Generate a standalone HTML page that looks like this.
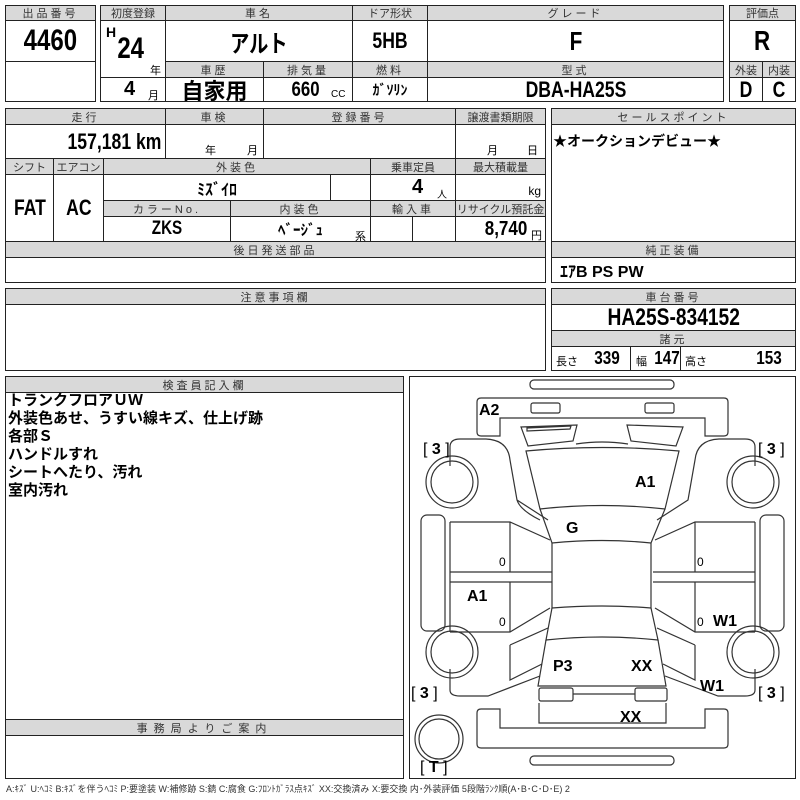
<!DOCTYPE html>
<html><head><meta charset="utf-8"><style>
*{margin:0;padding:0;box-sizing:border-box}
body{width:800px;height:800px;background:#fff;position:relative;overflow:hidden;font-family:"Liberation Sans","Noto Sans CJK JP",sans-serif;color:#000}
.c{position:absolute;border:1px solid #222;display:flex;align-items:center;justify-content:center;white-space:nowrap}
.h{background:#d9d9d9;font-size:11px;letter-spacing:3px;color:#333}
.v{font-weight:bold;font-size:22px;transform:scaleX(.8)}
.b{position:absolute;font-weight:bold;white-space:nowrap}
.s{position:absolute;font-size:11px;white-space:nowrap}
</style></head><body>
<!-- box1 -->
<div class="c h" style="left:5px;top:5px;width:91px;height:16px">出品番号</div>
<div class="c" style="left:5px;top:20px;width:91px;height:42px"><span class="v" style="font-size:30px">4460</span></div>
<div class="c" style="left:5px;top:61px;width:91px;height:41px"></div>
<!-- box2 -->
<div class="c h" style="left:100px;top:5px;width:66px;height:16px;letter-spacing:0">初度登録</div>
<div class="c h" style="left:165px;top:5px;width:188px;height:16px">車名</div>
<div class="c h" style="left:352px;top:5px;width:76px;height:16px;letter-spacing:0">ドア形状</div>
<div class="c h" style="left:427px;top:5px;width:297px;height:16px">グレード</div>
<div class="c" style="left:100px;top:20px;width:66px;height:58px"></div>
<div class="b" style="left:106px;top:24px;font-size:14px">H</div>
<div class="b" style="left:114px;top:32px;font-size:30px;transform:scaleX(.8)">24</div>
<div class="s" style="left:150px;top:62px">年</div>
<div class="c" style="left:165px;top:20px;width:188px;height:42px"><span class="v" style="font-size:24px">アルト</span></div>
<div class="c" style="left:352px;top:20px;width:76px;height:42px"><span class="v">5HB</span></div>
<div class="c" style="left:427px;top:20px;width:297px;height:42px"><span class="v" style="font-size:26px">F</span></div>
<div class="c h" style="left:165px;top:61px;width:99px;height:17px">車歴</div>
<div class="c h" style="left:263px;top:61px;width:90px;height:17px">排気量</div>
<div class="c h" style="left:352px;top:61px;width:76px;height:17px">燃料</div>
<div class="c h" style="left:427px;top:61px;width:297px;height:17px">型式</div>
<div class="c" style="left:100px;top:77px;width:66px;height:25px"></div>
<div class="b" style="left:124px;top:78px;font-size:20px">4</div><div class="s" style="left:148px;top:87px">月</div>
<div class="c" style="left:165px;top:77px;width:99px;height:25px"><span style="font-size:22px;font-weight:bold">自家用</span></div>
<div class="c" style="left:263px;top:77px;width:90px;height:25px"></div>
<div class="b" style="left:288px;top:78px;font-size:21px;transform:scaleX(.8)">660</div><div class="s" style="left:331px;top:89px;font-size:10px">CC</div>
<div class="c" style="left:352px;top:77px;width:76px;height:25px"><span style="font-size:14px;font-weight:bold">ｶﾞｿﾘﾝ</span></div>
<div class="c" style="left:427px;top:77px;width:297px;height:25px"><span class="v" style="font-size:22px">DBA-HA25S</span></div>
<!-- box3 -->
<div class="c h" style="left:729px;top:5px;width:67px;height:16px;letter-spacing:0">評価点</div>
<div class="c" style="left:729px;top:20px;width:67px;height:42px"><span class="v" style="font-size:28px">R</span></div>
<div class="c h" style="left:729px;top:61px;width:34px;height:17px;letter-spacing:0">外装</div>
<div class="c h" style="left:762px;top:61px;width:34px;height:17px;letter-spacing:0">内装</div>
<div class="c" style="left:729px;top:77px;width:34px;height:25px"><span class="v">D</span></div>
<div class="c" style="left:762px;top:77px;width:34px;height:25px"><span class="v">C</span></div>
<!-- block 2 -->
<div class="c h" style="left:5px;top:108px;width:161px;height:17px">走行</div>
<div class="c h" style="left:165px;top:108px;width:99px;height:17px">車検</div>
<div class="c h" style="left:263px;top:108px;width:193px;height:17px">登録番号</div>
<div class="c h" style="left:455px;top:108px;width:91px;height:17px;letter-spacing:0">譲渡書類期限</div>
<div class="c" style="left:5px;top:124px;width:161px;height:35px;justify-content:flex-end;padding-right:4px"><span class="v" style="font-size:22px;transform-origin:right">157,181 km</span></div>
<div class="c" style="left:165px;top:124px;width:99px;height:35px"></div>
<div class="s" style="left:205px;top:142px">年</div><div class="s" style="left:247px;top:142px">月</div>
<div class="c" style="left:263px;top:124px;width:193px;height:35px"></div>
<div class="c" style="left:455px;top:124px;width:91px;height:35px"></div>
<div class="s" style="left:487px;top:142px">月</div><div class="s" style="left:527px;top:142px">日</div>
<div class="c h" style="left:5px;top:158px;width:49px;height:17px;letter-spacing:0">シフト</div>
<div class="c h" style="left:53px;top:158px;width:51px;height:17px;letter-spacing:0">エアコン</div>
<div class="c h" style="left:103px;top:158px;width:268px;height:17px">外装色</div>
<div class="c h" style="left:370px;top:158px;width:86px;height:17px;letter-spacing:0">乗車定員</div>
<div class="c h" style="left:455px;top:158px;width:91px;height:17px;letter-spacing:0">最大積載量</div>
<div class="c" style="left:5px;top:174px;width:49px;height:68px"><span class="v">FAT</span></div>
<div class="c" style="left:53px;top:174px;width:51px;height:68px"><span class="v">AC</span></div>
<div class="c" style="left:103px;top:174px;width:228px;height:27px"><span style="font-weight:bold;font-size:16px">ﾐｽﾞｲﾛ</span></div>
<div class="c" style="left:330px;top:174px;width:41px;height:27px"></div>
<div class="c" style="left:370px;top:174px;width:86px;height:27px"></div>
<div class="b" style="left:412px;top:176px;font-size:20px">4</div><div class="s" style="left:437px;top:186px;font-size:10px">人</div>
<div class="c" style="left:455px;top:174px;width:91px;height:27px;justify-content:flex-end;align-items:flex-end;padding:0 4px 2px 0;font-size:12px">kg</div>
<div class="c h" style="left:103px;top:200px;width:128px;height:17px">カラーNo.</div>
<div class="c h" style="left:230px;top:200px;width:141px;height:17px">内装色</div>
<div class="c h" style="left:370px;top:200px;width:86px;height:17px">輸入車</div>
<div class="c h" style="left:455px;top:200px;width:91px;height:17px;letter-spacing:0">リサイクル預託金</div>
<div class="c" style="left:103px;top:216px;width:128px;height:26px"><span class="v" style="font-size:19px">ZKS</span></div>
<div class="c" style="left:230px;top:216px;width:141px;height:26px"><span style="font-weight:bold;font-size:15px">ﾍﾞｰｼﾞｭ</span></div>
<div class="s" style="left:355px;top:228px">系</div>
<div class="c" style="left:370px;top:216px;width:43px;height:26px"></div>
<div class="c" style="left:412px;top:216px;width:44px;height:26px"></div>
<div class="c" style="left:455px;top:216px;width:91px;height:26px"></div>
<div class="b" style="left:481px;top:218px;font-size:20px;transform:scaleX(.85)">8,740</div><div class="s" style="left:531px;top:227px">円</div>
<div class="c h" style="left:5px;top:241px;width:541px;height:17px">後日発送部品</div>
<div class="c" style="left:5px;top:257px;width:541px;height:26px"></div>
<!-- right -->
<div class="c h" style="left:551px;top:108px;width:245px;height:17px">セールスポイント</div>
<div class="c" style="left:551px;top:124px;width:245px;height:118px"></div>
<div class="b" style="left:553px;top:131px;font-size:14px">★オークションデビュー★</div>
<div class="c h" style="left:551px;top:241px;width:245px;height:17px">純正装備</div>
<div class="c" style="left:551px;top:257px;width:245px;height:26px;justify-content:flex-start;padding-left:8px"><span style="font-weight:bold;font-size:16px">ｴｱB PS PW</span></div>
<!-- 注意 -->
<div class="c h" style="left:5px;top:288px;width:541px;height:17px">注意事項欄</div>
<div class="c" style="left:5px;top:304px;width:541px;height:67px"></div>
<div class="c h" style="left:551px;top:288px;width:245px;height:17px">車台番号</div>
<div class="c" style="left:551px;top:304px;width:245px;height:27px"><span class="v" style="font-size:24px">HA25S-834152</span></div>
<div class="c h" style="left:551px;top:330px;width:245px;height:17px">諸元</div>
<div class="c" style="left:551px;top:346px;width:80px;height:25px"></div>
<div class="c" style="left:630px;top:346px;width:51px;height:25px"></div>
<div class="c" style="left:680px;top:346px;width:116px;height:25px"></div>
<div class="s" style="left:556px;top:353px">長さ</div><div class="b" style="left:592px;top:348px;font-size:18px;transform:scaleX(.85)">339</div>
<div class="s" style="left:636px;top:353px">幅</div><div class="b" style="left:652px;top:348px;font-size:18px;transform:scaleX(.85)">147</div>
<div class="s" style="left:685px;top:353px">高さ</div><div class="b" style="left:754px;top:348px;font-size:18px;transform:scaleX(.85)">153</div>
<!-- inspector -->
<div class="c h" style="left:5px;top:376px;width:399px;height:17px">検査員記入欄</div>
<div class="c" style="left:5px;top:392px;width:399px;height:328px"></div>
<div style="position:absolute;left:8px;top:392px;font-weight:bold;font-size:15px;line-height:18px;font-family:'Liberation Sans','Noto Sans CJK JP',sans-serif">トランクフロアＵＷ<br>外装色あせ、うすい線キズ、仕上げ跡<br>各部Ｓ<br>ハンドルすれ<br>シートへたり、汚れ<br>室内汚れ</div>
<div class="c h" style="left:5px;top:719px;width:399px;height:17px;letter-spacing:6px">事務局よりご案内</div>
<div class="c" style="left:5px;top:735px;width:399px;height:44px"></div>
<!-- diagram -->
<div class="c" style="left:409px;top:376px;width:387px;height:403px"></div>
<svg style="position:absolute;left:0;top:0" width="800" height="800" fill="none" stroke="#333" stroke-width="1.2">
<rect x="530" y="380" width="144" height="9" rx="4"/>
<path d="M481 398 H724 Q728 398 728 402 V432 Q728 436 724 436 H705 V418 H500 V436 H481 Q477 436 477 432 V402 Q477 398 481 398Z"/>
<rect x="531" y="403" width="29" height="10" rx="2"/><rect x="645" y="403" width="29" height="10" rx="2"/>
<path d="M521 427 L577 425 L573 441 L528 446 Z M527 428 L571 426 L570 429 L527 431Z"/>
<path d="M683 427 L627 425 L631 441 L676 446 Z"/>
<path d="M576 444 Q602 440 628 444"/>
<path d="M526 451 Q602 444 679 451 L665 509 Q602 502 540 509 Z"/>
<path d="M540 509 L552 543 Q602 538 651 543 L665 509"/>
<path d="M552 543 V608 Q602 604 651 608 V543"/>
<path d="M552 608 L546 640 Q602 634 658 640 L651 608"/>
<path d="M546 640 L538 686 H666 L658 640"/>
<rect x="539" y="688" width="34" height="13" rx="2"/><rect x="635" y="688" width="32" height="13" rx="2"/>
<path d="M573 694 H635 M539 703 V723 H666 V703"/>
<path d="M481 709 H500 V728 H705 V709 H724 Q728 709 728 713 V744 Q728 748 724 748 H481 Q477 748 477 744 V713 Q477 709 481 709Z"/>
<rect x="530" y="756" width="144" height="9" rx="4"/>
<!-- left fender front -->
<path d="M450 466 V447 Q450 439 460 439 H486 Q508 440 510 460 L517 500 L548 520 M517 500 Q520 510 540 520"/>
<path d="M450 522 H510 L550 540 M510 522 V572 M450 572 H552 M450 582 H552 M510 582 V632 M450 632 H510 L550 608"/>
<path d="M450 522 V632"/>
<path d="M510 645 L548 628 M510 645 V680 L542 664 M450 669 V690 Q450 696 460 696 H488 L540 676"/>
<!-- right -->
<path d="M755 466 V447 Q755 439 745 439 H719 Q697 440 695 460 L688 500 L657 520"/>
<path d="M755 522 H695 L655 540 M695 522 V572 M755 572 H653 M755 582 H653 M695 582 V632 M755 632 H695 L655 608 M755 522 V632"/>
<path d="M695 645 L657 628 M695 645 V680 L663 664 M755 669 V690 Q755 696 745 696 H718 L665 676"/>
<rect x="421" y="515" width="24" height="116" rx="6"/><rect x="760" y="515" width="24" height="116" rx="6"/>
<circle cx="452" cy="482" r="26"/><circle cx="452" cy="482" r="21"/>
<circle cx="452" cy="652" r="26"/><circle cx="452" cy="652" r="21"/>
<circle cx="753" cy="482" r="26"/><circle cx="753" cy="482" r="21"/>
<circle cx="753" cy="652" r="26"/><circle cx="753" cy="652" r="21"/>
<circle cx="439" cy="739" r="24"/><circle cx="439" cy="739" r="20"/>
<g fill="#000" stroke="none" font-family="Liberation Sans,sans-serif" font-weight="bold" font-size="16">
<text x="479" y="415">A2</text><text x="635" y="487">A1</text><text x="566" y="533">G</text><text x="467" y="601">A1</text>
<text x="713" y="626">W1</text><text x="700" y="691">W1</text><text x="553" y="671">P3</text><text x="631" y="671">XX</text><text x="620" y="722">XX</text>
<text x="423" y="454" font-weight="normal">[ <tspan font-weight="bold">3</tspan> ]</text>
<text x="758" y="454" font-weight="normal">[ <tspan font-weight="bold">3</tspan> ]</text>
<text x="411" y="698" font-weight="normal">[ <tspan font-weight="bold">3</tspan> ]</text>
<text x="758" y="698" font-weight="normal">[ <tspan font-weight="bold">3</tspan> ]</text>
<text x="420" y="772" font-weight="normal">[ <tspan font-weight="bold">T</tspan> ]</text>
<text x="499" y="566" font-size="12" font-weight="normal">0</text><text x="499" y="626" font-size="12" font-weight="normal">0</text>
<text x="697" y="566" font-size="12" font-weight="normal">0</text><text x="697" y="626" font-size="12" font-weight="normal">0</text>
</g>
</svg>
<div class="s" style="left:6px;top:782px;font-size:9px;color:#333">A:ｷｽﾞ U:ﾍｺﾐ B:ｷｽﾞを伴うﾍｺﾐ P:要塗装 W:補修跡 S:錆 C:腐食 G:ﾌﾛﾝﾄｶﾞﾗｽ点ｷｽﾞ XX:交換済み X:要交換 内･外装評価 5段階ﾗﾝｸ順(A･B･C･D･E) 2</div>
</body></html>
